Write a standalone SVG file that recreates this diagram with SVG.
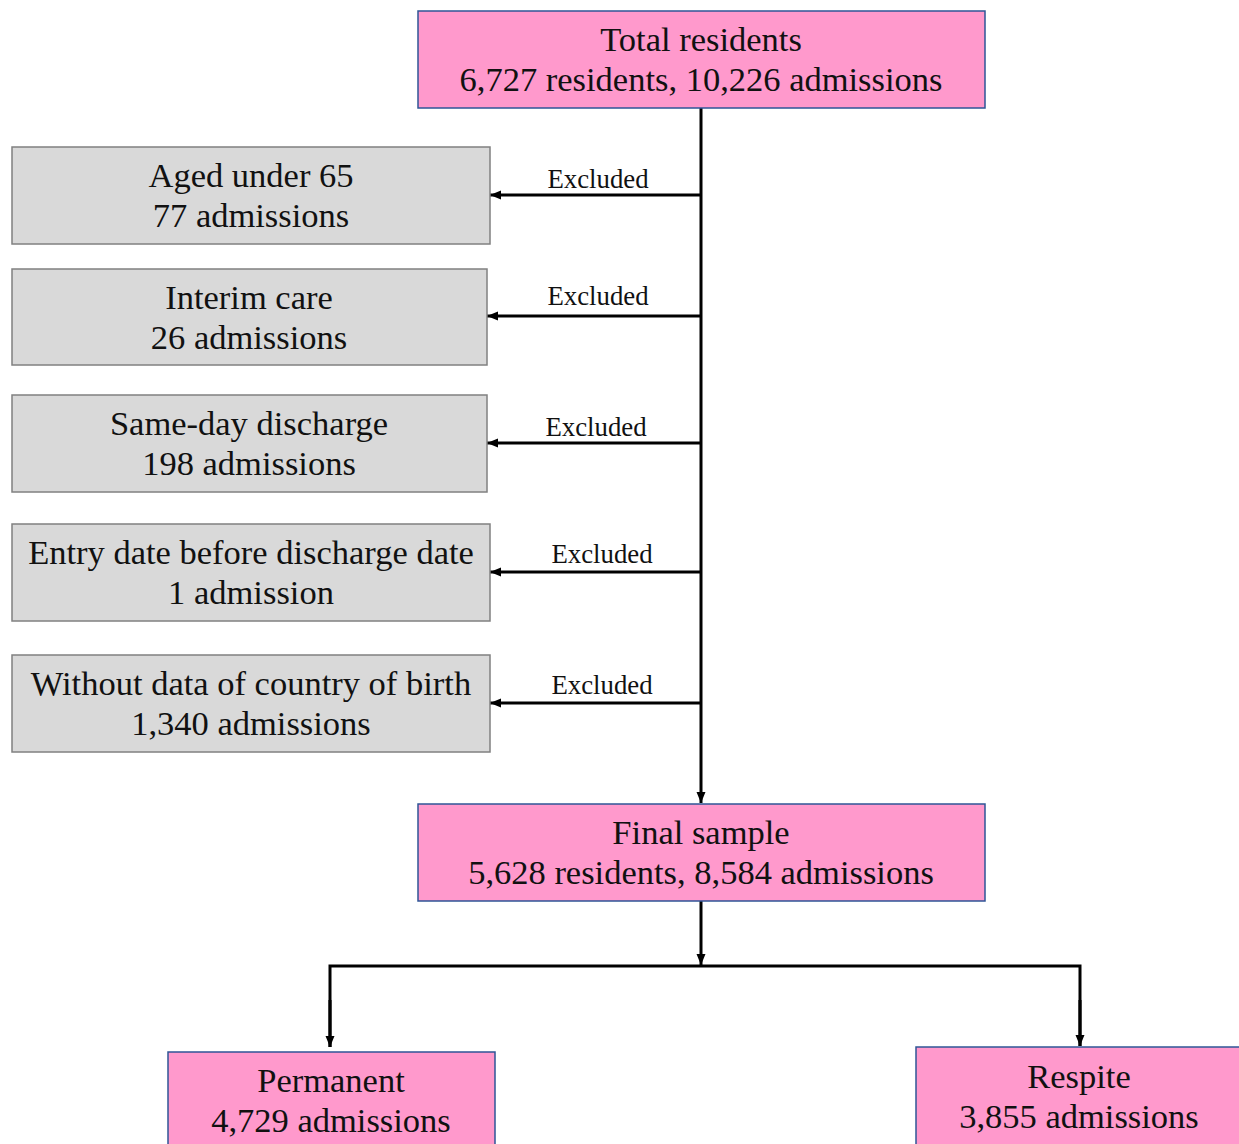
<svg xmlns="http://www.w3.org/2000/svg" width="1239" height="1144" viewBox="0 0 1239 1144">
<style>
.pink{fill:#FF99CC;stroke:#2F5597;stroke-width:1.5}
.gray{fill:#D9D9D9;stroke:#808080;stroke-width:1.5}
.t{font-family:"Liberation Serif","Times New Roman",serif;font-size:34.5px;fill:#111;text-anchor:middle}
.ex{font-family:"Liberation Serif","Times New Roman",serif;font-size:26.8px;fill:#111;text-anchor:middle}
.ln{stroke:#000;stroke-width:3;fill:none}
</style>
<defs>
<marker id="ah" markerUnits="userSpaceOnUse" markerWidth="12" markerHeight="12" viewBox="0 0 12 12" refX="11" refY="6" orient="auto">
<path d="M0,1.5 L11,6 L0,10.5 Z" fill="#000"/>
</marker>
</defs>
<rect width="1239" height="1144" fill="#fff"/>
<g id="connectors">
<line class="ln" x1="701" y1="108" x2="701" y2="803" marker-end="url(#ah)"/>
<line class="ln" x1="701" y1="195" x2="490" y2="195" marker-end="url(#ah)"/>
<line class="ln" x1="701" y1="316" x2="487" y2="316" marker-end="url(#ah)"/>
<line class="ln" x1="701" y1="443" x2="487" y2="443" marker-end="url(#ah)"/>
<line class="ln" x1="701" y1="572" x2="490" y2="572" marker-end="url(#ah)"/>
<line class="ln" x1="701" y1="703" x2="490" y2="703" marker-end="url(#ah)"/>
<line class="ln" x1="701" y1="901" x2="701" y2="965" marker-end="url(#ah)"/>
<polyline class="ln" points="330,1047 330,966 1080,966 1080,1046"/>
<line class="ln" x1="330" y1="1000" x2="330" y2="1047" marker-end="url(#ah)"/>
<line class="ln" x1="1080" y1="1000" x2="1080" y2="1046" marker-end="url(#ah)"/>
<text class="ex" x="598" y="188">Excluded</text>
<text class="ex" x="598" y="305">Excluded</text>
<text class="ex" x="596" y="436">Excluded</text>
<text class="ex" x="602" y="563">Excluded</text>
<text class="ex" x="602" y="694">Excluded</text>
</g>
<g id="total">
<rect class="pink" x="418" y="11" width="567" height="97"/>
<text class="t" x="701" y="51">Total residents</text>
<text class="t" x="701" y="91">6,727 residents, 10,226 admissions</text>
</g>
<g id="aged">
<rect class="gray" x="12" y="147" width="478" height="97"/>
<text class="t" x="251" y="187">Aged under 65</text>
<text class="t" x="251" y="227">77 admissions</text>
</g>
<g id="interim">
<rect class="gray" x="12" y="269" width="475" height="96"/>
<text class="t" x="249" y="309">Interim care</text>
<text class="t" x="249" y="349">26 admissions</text>
</g>
<g id="sameday">
<rect class="gray" x="12" y="395" width="475" height="97"/>
<text class="t" x="249" y="435">Same-day discharge</text>
<text class="t" x="249" y="475">198 admissions</text>
</g>
<g id="entry">
<rect class="gray" x="12" y="524" width="478" height="97"/>
<text class="t" x="251" y="564">Entry date before discharge date</text>
<text class="t" x="251" y="604">1 admission</text>
</g>
<g id="country">
<rect class="gray" x="12" y="655" width="478" height="97"/>
<text class="t" x="251" y="695">Without data of country of birth</text>
<text class="t" x="251" y="735">1,340 admissions</text>
</g>
<g id="final">
<rect class="pink" x="418" y="804" width="567" height="97"/>
<text class="t" x="701" y="844">Final sample</text>
<text class="t" x="701" y="884">5,628 residents, 8,584 admissions</text>
</g>
<g id="permanent">
<rect class="pink" x="168" y="1052" width="327" height="110"/>
<text class="t" x="331" y="1092">Permanent</text>
<text class="t" x="331" y="1132">4,729 admissions</text>
</g>
<g id="respite">
<rect class="pink" x="916" y="1047" width="327" height="110"/>
<text class="t" x="1079" y="1088">Respite</text>
<text class="t" x="1079" y="1128">3,855 admissions</text>
</g>
</svg>
